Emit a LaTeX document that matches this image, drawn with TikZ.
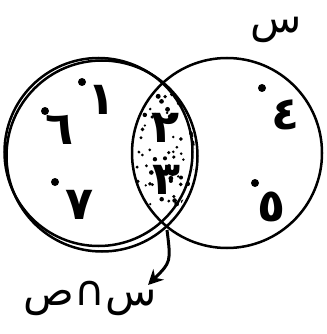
\documentclass[tikz,border=0pt]{standalone}
\usepackage{fontspec}
\newfontfamily\arabicfont[Script=Arabic]{DejaVu Sans}
\TeXXeTstate=1
\usepackage{tikz}
\usetikzlibrary{arrows.meta, positioning}

\tikzset{
  setline/.style={line width=2.5pt},
  digit/.style={font=\arabicfont\bfseries\fontsize{46}{46}\selectfont, inner sep=0pt},
  setname/.style={font=\arabicfont\fontsize{42}{42}\selectfont, inner sep=0pt},
  sep/.style={fill, circle, inner sep=0pt, minimum size=8pt}
}

\begin{document}
\begin{tikzpicture}[x=1pt, y=-1pt]

% Canvas
\useasboundingbox (0,0) rectangle (326,334);

% Geometry parameters
\def\R{95}     % radius of the circles

% Intersection shading (random dots)
\begin{scope}
  \clip (100,154) circle[radius=95pt];
  \clip (227,153) circle[radius=\R pt];
  \pgfmathsetseed{11}
  \foreach \i in {1,...,90}{
    \pgfmathsetmacro\px{128+rnd*72}
    \pgfmathsetmacro\py{80+rnd*150}
    \pgfmathsetmacro\pr{1.2+rnd*1.3}
    \fill (\px,\py) circle[radius=\pr pt];
  }
\end{scope}

% Left set (drawn twice)
\draw[setline] (98.5,152) circle[radius=94pt];
\draw[setline] (102,156) circle[radius=95.5pt];

% Right set
\draw[setline] (227,153) circle[radius=\R pt];

% Elements of the left set
\node[sep] (d1) at (82,82) {};
\node[digit] (n1) at (102,100) {١};
\node[sep] (d6) at (45,111) {};
\node[digit] (n6) at (60,130) {٦};
\node[sep] (d7) at (55,182) {};
\node[digit] (n7) at (80,205) {٧};

% Elements of the intersection
\node[digit] (n2) at (166,128) {٢};
\node[digit] (n3) at (167,180) {٣};

% Elements of the right set
\node[sep] (d4) at (262,88) {};
\node[digit] (n4) at (286,115) {٤};
\node[sep] (d5) at (255,183) {};
\node[digit] (n5) at (272,207) {٥};

% Set name
\node[setname] (sname) at (276,30) {س};

% Intersection label
\coordinate (lens) at (167,230);
\node[setname] (inter) at (90,298) {\beginR س∩ص\endR};
\draw[line width=3pt, -{Stealth[length=15pt, width=15pt]}]
  (lens) .. controls (171,262) .. (148,285);

\end{tikzpicture}
\end{document}
